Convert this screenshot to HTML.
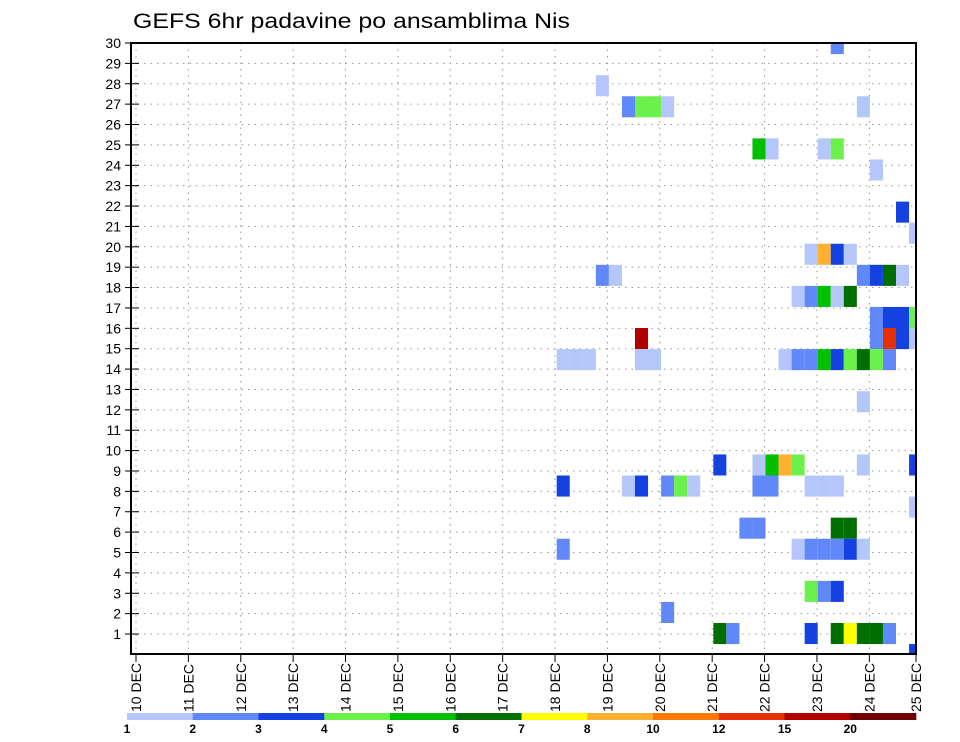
<!DOCTYPE html>
<html><head><meta charset="utf-8"><style>
html,body{margin:0;padding:0;background:#fff;}
svg{display:block;font-family:"Liberation Sans",sans-serif;}
</style></head><body>
<svg id="chart" width="960" height="742" viewBox="0 0 960 742">
<text x="133" y="28" font-size="21" textLength="437" lengthAdjust="spacingAndGlyphs" fill="#000">GEFS 6hr padavine po ansamblima Nis</text>
<defs><clipPath id="plotclip"><rect x="131" y="43" width="785" height="611"/></clipPath></defs>
<g id="grid"></g>
<g id="cells" clip-path="url(#plotclip)"></g>
<rect x="131" y="43" width="785" height="611" fill="none" stroke="#000" stroke-width="2"/>
<g id="yaxis"></g>
<g id="xaxis"></g>
<g id="colorbar"></g>
</svg>
<script>
const dayLabels = [10,11,12,13,14,15,16,17,18,19,20,21,22,23,24,25];
const memberLabels = [1,2,3,4,5,6,7,8,9,10,11,12,13,14,15,16,17,18,19,20,21,22,23,24,25,26,27,28,29,30];
const levelLabels = ["1","2","3","4","5","6","7","8","10","12","15","20"];
const levelBounds = [1,2,3,4,5,6,7,8,10,12,15,20,999];
const levelColors = ["#b4c6fa","#6088f8","#1442e0","#6cf04c","#00c000","#006e00","#ffff00","#ffb030","#ff7800","#e63000","#b00000","#700000"];
const cellMember = [29,27,26,26,26,26,26,24,24,24,24,23,21,20,19,19,19,19,18,18,18,18,18,18,17,17,17,17,17,16,16,16,16,15,15,15,15,15,14,14,14,14,14,14,14,14,14,14,14,14,14,14,12,9,9,9,9,9,9,9,8,8,8,8,8,8,8,8,8,8,8,7,6,6,6,6,5,5,5,5,5,5,5,3,3,3,2,1,1,1,1,1,1,1,1,0];
const cellTime = [53,35,37,38,39,40,55,47,48,52,53,56,58,59,51,52,53,54,35,36,55,56,57,58,50,51,52,53,54,56,57,58,59,38,56,57,58,59,32,33,34,38,39,49,50,51,52,53,54,55,56,57,55,44,47,48,49,50,55,59,32,37,38,40,41,42,47,48,51,52,53,59,46,47,53,54,32,50,51,52,53,54,55,51,52,53,40,44,45,51,53,54,55,56,57,59];
const cellValue = [2.5,1.5,2.5,4.5,4.5,1.5,1.5,5.5,1.5,1.5,4.5,1.5,3.5,1.5,1.5,9,3.5,1.5,2.5,1.5,2.5,3.5,6.5,1.5,1.5,2.5,5.5,1.5,6.5,2.5,3.5,3.5,4.5,17,2.5,13,3.5,1.5,1.5,1.5,1.5,1.5,1.5,1.5,2.5,2.5,5.5,3.5,4.5,6.5,4.5,2.5,1.5,3.5,1.5,5.5,9,4.5,1.5,3.5,3.5,1.5,3.5,2.5,4.5,1.5,2.5,2.5,1.5,1.5,1.5,1.5,2.5,2.5,6.5,6.5,2.5,1.5,2.5,2.5,2.5,3.5,1.5,4.5,2.5,3.5,2.5,6.5,2.5,3.5,6.5,7.5,6.5,6.5,2.5,3.5];

const NS="http://www.w3.org/2000/svg";
function mk(tag, attrs, parent){const e=document.createElementNS(NS,tag);for(const k in attrs)e.setAttribute(k,attrs[k]);parent.appendChild(e);return e;}
// axis functions
const dayX = d => 136 + (d-10)*52.38;
const memberY = n => 43 + (30-n)*20.38;
const cellX = i => 139.1 + i*13.05;
const cellW = 13.05;
const cellY = r => 654.6 - r*21.07 - 10.535;
const cellH = 21.07;
function colorFor(v){for(let k=0;k<levelColors.length;k++){if(v>=levelBounds[k]&&v<levelBounds[k+1])return levelColors[k];}return "#fff";}

const grid=document.getElementById('grid');
memberLabels.forEach(n=>{ if(n<30){
  const l=mk('line',{x1:131,x2:916,y1:memberY(n),y2:memberY(n),stroke:'#999','stroke-width':1,'stroke-dasharray':'1.5 5'},grid);
  
  
}});
dayLabels.forEach(d=>{ if(d<25){
  const l=mk('line',{x1:dayX(d),x2:dayX(d),y1:43,y2:654,stroke:'#999','stroke-width':1,'stroke-dasharray':'1.5 5'},grid);
  
  
}});

const cells=document.getElementById('cells');
for(let k=0;k<cellValue.length;k++){
  const r=mk('rect',{x:cellX(cellTime[k]),y:cellY(cellMember[k]),width:cellW,height:cellH,fill:colorFor(cellValue[k])},cells);
  
  
}

const ya=document.getElementById('yaxis');
memberLabels.forEach(n=>{
  const y=memberY(n);
  const t=mk('line',{x1:125,x2:139,y1:y,y2:y,stroke:'#000','stroke-width':1},ya);
  
  
  const tx=mk('text',{x:121,y:y+5,'font-size':14,'text-anchor':'end',fill:'#000'},ya);
  tx.textContent=n;
  
  
});

const xa=document.getElementById('xaxis');
dayLabels.forEach(d=>{
  const x=Math.min(dayX(d),916);
  const t=mk('line',{x1:x,x2:x,y1:654,y2:662,stroke:'#000','stroke-width':1},xa);
  
  
  const tx=mk('text',{x:0,y:0,'font-size':14,'text-anchor':'start',fill:'#000',transform:`translate(${x+5},712) rotate(-90)`},xa);
  tx.textContent=d+' DEC';
  
  
});

const cb=document.getElementById('colorbar');
const cbX0=127, cbX1=916, segW=(cbX1-cbX0)/levelColors.length;
levelColors.forEach((c,k)=>{
  const r=mk('rect',{x:cbX0+k*segW,y:713,width:segW+0.3,height:7,fill:c},cb);
  
  
});
levelLabels.forEach((s,k)=>{
  const t=mk('text',{x:cbX0+k*segW,y:733,'font-size':12,'font-weight':'bold','text-anchor':'middle',fill:'#000'},cb);
  t.textContent=s;
  
  
});
</script>
</body></html>
